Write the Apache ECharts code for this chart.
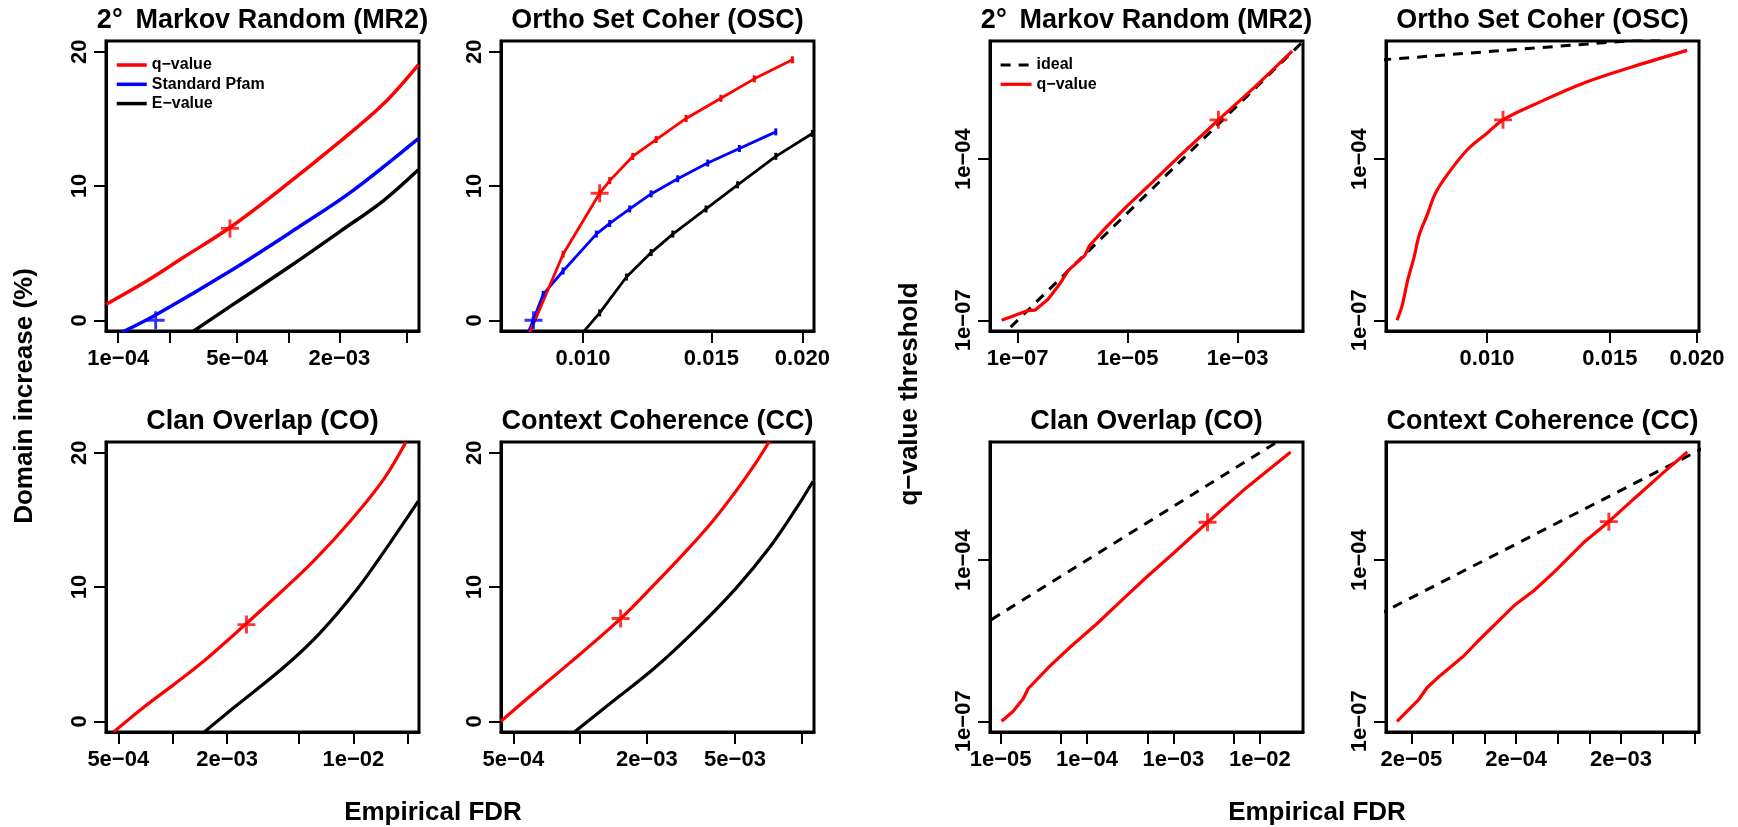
<!DOCTYPE html>
<html>
<head>
<meta charset="utf-8">
<script src="https://cdn.jsdelivr.net/npm/echarts@6.0.0/dist/echarts.min.js"></script>
<style>
  html, body { margin: 0; padding: 0; background: #fff; }
  #chart { width: 1738px; height: 827px; }
</style>
</head>
<body>
<div id="chart"></div>
<script>
// ---- data (empirical FDR on x, domain increase % or q-value threshold on y) ----

// MR2, domain increase
const mr2QvalFdr = [8.47e-5, 1.47e-4, 2.41e-4, 4.54e-4, 9.35e-4, 2.01e-3, 3.62e-3, 5.82e-3];
const mr2QvalInc = [1.18, 2.92, 4.67, 6.91, 9.91, 13.3, 16.1, 19.03];
const mr2PfamFdr = [1.05e-4, 1.68e-4, 4.74e-4, 1.17e-3, 2.31e-3, 5.82e-3];
const mr2PfamInc = [-0.9, 0.43, 3.8, 7.0, 9.5, 13.53];
const mr2EvalFdr = [2.70e-4, 4.74e-4, 1.02e-3, 2.01e-3, 3.62e-3, 5.82e-3];
const mr2EvalInc = [-0.9, 1.18, 4.0, 6.6, 8.9, 11.21];
const mr2QvalMark = [4.54e-4, 6.84];
const mr2PfamMark = [1.66e-4, 0];

// OSC, domain increase
const oscQvalFdr = [0.008453, 0.009389, 0.01054, 0.01088, 0.0117, 0.0126, 0.01385, 0.01546, 0.01718, 0.01938];
const oscQvalInc = [-0.9, 4.92, 9.46, 10.4, 12.2, 13.46, 15.03, 16.53, 17.98, 19.4];
const oscPfamFdr = [0.008411, 0.008544, 0.008817, 0.009389, 0.01043, 0.01088, 0.01159, 0.0124, 0.01349, 0.01483, 0.01639, 0.01839];
const oscPfamInc = [-0.9, 0, 1.93, 3.67, 6.42, 7.21, 8.29, 9.41, 10.54, 11.71, 12.79, 14.03];
const oscEvalFdr = [0.01, 0.01054, 0.01147, 0.0124, 0.01328, 0.01475, 0.0163, 0.01839, 0.02064];
const oscEvalInc = [-0.9, 0.55, 3.22, 5.04, 6.42, 8.29, 10.09, 12.21, 13.91];
const oscQvalMark = [0.01054, 9.46];
const oscPfamMark = [0.00855, 0];

// CO, domain increase
const coQvalFdr = [4.716e-4, 6.918e-4, 1.013e-3, 1.483e-3, 2.523e-3, 3.936e-3, 6.012e-3, 9.594e-3, 0.01466, 0.01954];
const coQvalInc = [-0.79, 1.05, 2.73, 4.47, 7.21, 9.57, 11.92, 14.9, 18.0, 20.8];
const coEvalFdr = [1.496e-3, 2.173e-3, 4.102e-3, 6.546e-3, 0.01045, 0.01596, 0.02286];
const coEvalInc = [-0.79, 1.0, 4.0, 6.59, 9.81, 13.29, 16.39];
const coQvalMark = [2.56e-3, 7.2];

// CC, domain increase
const ccQvalFdr = [4.398e-4, 5.943e-4, 8.989e-4, 1.524e-3, 2.128e-3, 3.008e-3, 3.963e-3, 5.047e-3, 6.209e-3, 7.129e-3];
const ccQvalInc = [0, 1.86, 4.35, 7.65, 10.06, 12.67, 14.9, 17.14, 19.25, 20.82];
const ccEvalFdr = [9.462e-4, 1.406e-3, 2.128e-3, 3.334e-3, 5.047e-3, 7.129e-3, 9.397e-3, 0.01125];
const ccEvalInc = [-0.79, 1.49, 3.85, 6.83, 9.9, 12.9, 15.8, 17.88];
const ccQvalMark = [1.524e-3, 7.65];

// q-value threshold vs empirical FDR
const mr2ThrFdr = [5.13e-8, 1.46e-7, 2.06e-7, 3.58e-7, 5.83e-7, 8.26e-7, 1.66e-6, 2.04e-6, 4.09e-6, 9.44e-6, 2.86e-5, 1.0e-4, 4.49e-4, 2.12e-3, 9.84e-3];
const mr2ThrQ = [1.0e-7, 1.49e-7, 1.54e-7, 2.47e-7, 4.72e-7, 8.38e-7, 1.60e-6, 2.46e-6, 5.42e-6, 1.29e-5, 3.78e-5, 1.29e-4, 5.40e-4, 2.27e-3, 1.03e-2];
const mr2ThrMark = [4.49e-4, 5.40e-4];

const oscThrFdr = [0.007426, 0.007551, 0.007691, 0.007845, 0.008002, 0.0082, 0.008428, 0.00876, 0.009361, 0.01, 0.01054, 0.01167, 0.01377, 0.01626, 0.01936];
const oscThrQ = [1e-7, 1.85e-7, 5.45e-7, 1.39e-6, 4.07e-6, 8.97e-6, 2.29e-5, 5.04e-5, 1.48e-4, 3.04e-4, 5.40e-4, 1.03e-3, 2.62e-3, 5.37e-3, 1.06e-2];
const oscThrMark = [0.01054, 5.40e-4];

const coThrFdr = [1.028e-5, 1.396e-5, 1.824e-5, 2.08e-5, 3.707e-5, 6.592e-5, 1.282e-4, 2.377e-4, 4.831e-4, 9.795e-4, 2.483e-3, 6.887e-3, 0.02275];
const coThrQ = [1e-7, 1.54e-7, 2.62e-7, 4.03e-7, 1.06e-6, 2.52e-6, 6.40e-6, 1.63e-5, 4.76e-5, 1.30e-4, 5.07e-4, 2.19e-3, 1.03e-2];
const coThrMark = [2.483e-3, 5.07e-4];

const ccThrFdr = [1.46e-5, 2.35e-5, 2.82e-5, 3.78e-5, 6.31e-5, 8.47e-5, 1.90e-4, 2.94e-4, 4.57e-4, 8.85e-4, 1.53e-3, 2.65e-3, 5.13e-3, 8.59e-3];
const ccThrQ = [1e-7, 2.54e-7, 4.21e-7, 7.13e-7, 1.64e-6, 2.99e-6, 1.41e-5, 2.69e-5, 5.93e-5, 2.15e-4, 5.21e-4, 1.38e-3, 4.36e-3, 1.03e-2];
const ccThrMark = [1.53e-3, 5.21e-4];

// ideal line q = FDR
const idealFdr = [1e-9, 1];

// ---- tick positions and labels ----
const incTicks = [0, 10, 20];
const incLabels = ['0', '10', '20'];
const thrTicks = [1e-7, 1e-4];
const thrLabels = ['1e\u221207', '1e\u221204'];

const mr2XTicks = [1e-4, 2e-4, 5e-4, 1e-3, 2e-3, 5e-3];
const mr2XLabelAt = [1e-4, 5e-4, 2e-3];
const mr2XLabels = ['1e\u221204', '5e\u221204', '2e\u221203'];
const oscXTicks = [0.010, 0.015, 0.020];
const oscXLabelAt = [0.010, 0.015, 0.020];
const oscXLabels = ['0.010', '0.015', '0.020'];
const coXTicks = [5e-4, 1e-3, 2e-3, 5e-3, 1e-2, 2e-2];
const coXLabelAt = [5e-4, 2e-3, 1e-2];
const coXLabels = ['5e\u221204', '2e\u221203', '1e\u221202'];
const ccXTicks = [5e-4, 1e-3, 2e-3, 5e-3, 1e-2];
const ccXLabelAt = [5e-4, 2e-3, 5e-3];
const ccXLabels = ['5e\u221204', '2e\u221203', '5e\u221203'];
const mr2ThrXTicks = [1e-7, 1e-5, 1e-3];
const mr2ThrXLabels = ['1e\u221207', '1e\u221205', '1e\u221203'];
const coThrXTicks = [1e-5, 5e-5, 1e-4, 5e-4, 1e-3, 5e-3, 1e-2];
const coThrXLabelAt = [1e-5, 1e-4, 1e-3, 1e-2];
const coThrXLabels = ['1e\u221205', '1e\u221204', '1e\u221203', '1e\u221202'];
const ccThrXTicks = [2e-5, 5e-5, 1e-4, 2e-4, 5e-4, 1e-3, 2e-3, 5e-3, 1e-2];
const ccThrXLabelAt = [2e-5, 2e-4, 2e-3];
const ccThrXLabels = ['2e\u221205', '2e\u221204', '2e\u221203'];

// ---- layout ----
const FONT = '"Liberation Sans", Arial, Helvetica, sans-serif';
const RED = '#ff0000', BLUE = '#0000ff', BLACK = '#000000';
const PLUS = 'path://M-0.16,-1L0.16,-1L0.16,-0.16L1,-0.16L1,0.16L0.16,0.16L0.16,1L-0.16,1L-0.16,0.16L-1,0.16L-1,-0.16L-0.16,-0.16Z';
const TICK = 'path://M-0.2,-1L0.2,-1L0.2,1L-0.2,1Z';
const L = Math.log10;

const cols = [106, 501, 990, 1386];
const rows = [41, 442];
const boxW = 313, boxH = 290;

const incRange = [-0.8, 20.8];
const thrRange = [-7.2, -1.8];

const chart = echarts.init(document.getElementById('chart'), null, {renderer: 'canvas'});

const grids = [], xAxes = [], yAxes = [], series = [];

function fmt(labelAt, labels, log) {
    return function (v) {
        for (let i = 0; i < labelAt.length; i++) {
            const t = log ? L(labelAt[i]) : labelAt[i];
            if (Math.abs(t - v) < 1e-6) return labels[i];
        }
        return '';
    };
}

function addPanel(col, row, xRange, xTicks, xLabelAt, xLabels, yLog) {
    const k = grids.length;
    grids.push({
        left: cols[col], top: rows[row], width: boxW, height: boxH,
        show: true, borderColor: BLACK, borderWidth: 3, backgroundColor: 'transparent'
    });
    const labelStyle = {fontFamily: FONT, fontSize: 22, fontWeight: 'bold', color: BLACK};
    xAxes.push({
        type: 'value', gridIndex: k, min: xRange[0], max: xRange[1],
        axisLine: {show: true, onZero: false, lineStyle: {color: BLACK, width: 3}},
        splitLine: {show: false},
        axisTick: {show: true, customValues: xTicks.map(L), length: 12, lineStyle: {color: BLACK, width: 2}},
        axisLabel: Object.assign({customValues: xLabelAt.map(L), formatter: fmt(xLabelAt, xLabels, true), margin: 17}, labelStyle)
    });
    const yt = yLog ? thrTicks : incTicks;
    const yl = yLog ? thrLabels : incLabels;
    yAxes.push({
        type: 'value', gridIndex: k,
        min: yLog ? thrRange[0] : incRange[0], max: yLog ? thrRange[1] : incRange[1],
        axisLine: {show: true, onZero: false, lineStyle: {color: BLACK, width: 3}},
        splitLine: {show: false},
        axisTick: {show: true, customValues: yLog ? yt.map(L) : yt, length: 12, lineStyle: {color: BLACK, width: 2}},
        axisLabel: Object.assign({customValues: yLog ? yt.map(L) : yt, formatter: fmt(yt, yl, yLog), rotate: 90, margin: 15}, labelStyle)
    });
    return k;
}

function pts(xs, ys, yLog) {
    return xs.map((x, i) => [L(x), yLog ? L(ys[i]) : ys[i]]);
}

function line(k, name, xs, ys, yLog, color, width, opts) {
    series.push(Object.assign({
        type: 'line', name: name, xAxisIndex: k, yAxisIndex: k,
        data: pts(xs, ys, yLog), symbol: 'circle', showSymbol: false, clip: true,
        lineStyle: {color: color, width: width}, itemStyle: {color: color},
        z: 3
    }, opts || {}));
}

function mark(k, p, yLog, color) {
    series.push({
        type: 'scatter', name: 'marker', xAxisIndex: k, yAxisIndex: k,
        data: [[L(p[0]), yLog ? L(p[1]) : p[1]]],
        symbol: PLUS, symbolSize: 18, itemStyle: {color: color}, z: 5
    });
}

const smoothOpt = {smooth: 0.35};
const dots = {symbol: TICK, symbolSize: [3, 7], showSymbol: true};

// top-left: MR2 domain increase
let k = addPanel(0, 0, [-4.072, -2.231], mr2XTicks, mr2XLabelAt, mr2XLabels, false);
line(k, 'E\u2212value', mr2EvalFdr, mr2EvalInc, false, BLACK, 3.5, smoothOpt);
line(k, 'Standard Pfam', mr2PfamFdr, mr2PfamInc, false, BLUE, 3.5, smoothOpt);
line(k, 'q\u2212value', mr2QvalFdr, mr2QvalInc, false, RED, 3.5, smoothOpt);
mark(k, mr2QvalMark, false, RED);
mark(k, mr2PfamMark, false, BLUE);

// OSC domain increase
k = addPanel(1, 0, [-2.1126, -1.683], oscXTicks, oscXLabelAt, oscXLabels, false);
line(k, 'E\u2212value', oscEvalFdr, oscEvalInc, false, BLACK, 2.8, dots);
line(k, 'Standard Pfam', oscPfamFdr, oscPfamInc, false, BLUE, 2.8, dots);
line(k, 'q\u2212value', oscQvalFdr, oscQvalInc, false, RED, 2.8, dots);
mark(k, oscQvalMark, false, RED);
mark(k, oscPfamMark, false, BLUE);

// CO domain increase
k = addPanel(0, 1, [-3.369, -1.637], coXTicks, coXLabelAt, coXLabels, false);
line(k, 'E\u2212value', coEvalFdr, coEvalInc, false, BLACK, 3.2, smoothOpt);
line(k, 'q\u2212value', coQvalFdr, coQvalInc, false, RED, 3.2, smoothOpt);
mark(k, coQvalMark, false, RED);

// CC domain increase
k = addPanel(1, 1, [-3.3566, -1.9447], ccXTicks, ccXLabelAt, ccXLabels, false);
line(k, 'E\u2212value', ccEvalFdr, ccEvalInc, false, BLACK, 3.2, smoothOpt);
line(k, 'q\u2212value', ccQvalFdr, ccQvalInc, false, RED, 3.2, smoothOpt);
mark(k, ccQvalMark, false, RED);

// right block: q-value threshold
const dashed = {lineStyle: {color: BLACK, width: 3, type: [10, 8]}};
const thrPanels = [
    [2, 0, [-7.502, -1.81], mr2ThrXTicks, mr2ThrXTicks, mr2ThrXLabels, mr2ThrFdr, mr2ThrQ, mr2ThrMark, null],
    [3, 0, [-2.145, -1.696], oscXTicks, oscXLabelAt, oscXLabels, oscThrFdr, oscThrQ, oscThrMark, smoothOpt],
    [2, 1, [-5.123, -1.5], coThrXTicks, coThrXLabelAt, coThrXLabels, coThrFdr, coThrQ, coThrMark, null],
    [3, 1, [-4.941, -1.955], ccThrXTicks, ccThrXLabelAt, ccThrXLabels, ccThrFdr, ccThrQ, ccThrMark, null]
];
thrPanels.forEach(p => {
    const kk = addPanel(p[0], p[1], p[2], p[3], p[4], p[5], true);
    line(kk, 'ideal', idealFdr, idealFdr, true, BLACK, 3, dashed);
    line(kk, 'q\u2212value', p[6], p[7], true, RED, 3.2, p[9]);
    mark(kk, p[8], true, RED);
});

// titles and axis names
const titles = [
    '2\u00b0 \u2009Markov Random (MR2)', 'Ortho Set Coher (OSC)',
    'Clan Overlap (CO)', 'Context Coherence (CC)'
];
const graphics = [];
[0, 2].forEach(c0 => {
    titles.forEach((t, i) => {
        const c = c0 + (i % 2), r = Math.floor(i / 2);
        graphics.push({
            type: 'text', x: cols[c] + boxW / 2, y: r === 0 ? 21 : 422,
            style: {text: t, font: 'bold 27px ' + FONT, fill: BLACK,
                textAlign: 'center', textVerticalAlign: 'middle', align: 'center', verticalAlign: 'middle'}
        });
    });
});
function axisName(text, x, y, rot) {
    graphics.push({
        type: 'text', x: x, y: y, rotation: rot,
        style: {text: text, font: 'bold 26px ' + FONT, fill: BLACK,
            textAlign: 'center', textVerticalAlign: 'middle', align: 'center', verticalAlign: 'middle'}
    });
}
axisName('Domain increase (%)', 25, 396, Math.PI / 2);
axisName('q\u2212value threshold', 910, 394, Math.PI / 2);
axisName('Empirical FDR', 433, 813, 0);
axisName('Empirical FDR', 1317, 813, 0);

const legendText = {fontFamily: FONT, fontSize: 16, fontWeight: 'bold', color: BLACK, lineHeight: 16};
const noSymbol = {color: 'rgba(0,0,0,0)', borderColor: 'rgba(0,0,0,0)', borderWidth: 0};

chart.setOption({
    animation: false,
    backgroundColor: '#ffffff',
    grid: grids,
    xAxis: xAxes,
    yAxis: yAxes,
    legend: [
        {
            data: ['q\u2212value', 'Standard Pfam', 'E\u2212value'],
            orient: 'vertical', left: 110, top: 52,
            itemWidth: 30, itemHeight: 14, itemGap: 3.3,
            itemStyle: noSymbol, lineStyle: {width: 3.5},
            textStyle: legendText, selectedMode: false
        },
        {
            data: ['ideal', 'q\u2212value'],
            orient: 'vertical', left: 994, top: 52,
            itemWidth: 31, itemHeight: 14, itemGap: 3.3,
            itemStyle: noSymbol, lineStyle: {width: 3.2},
            textStyle: legendText, selectedMode: false
        }
    ],
    graphic: graphics,
    series: series
});
</script>
</body>
</html>
